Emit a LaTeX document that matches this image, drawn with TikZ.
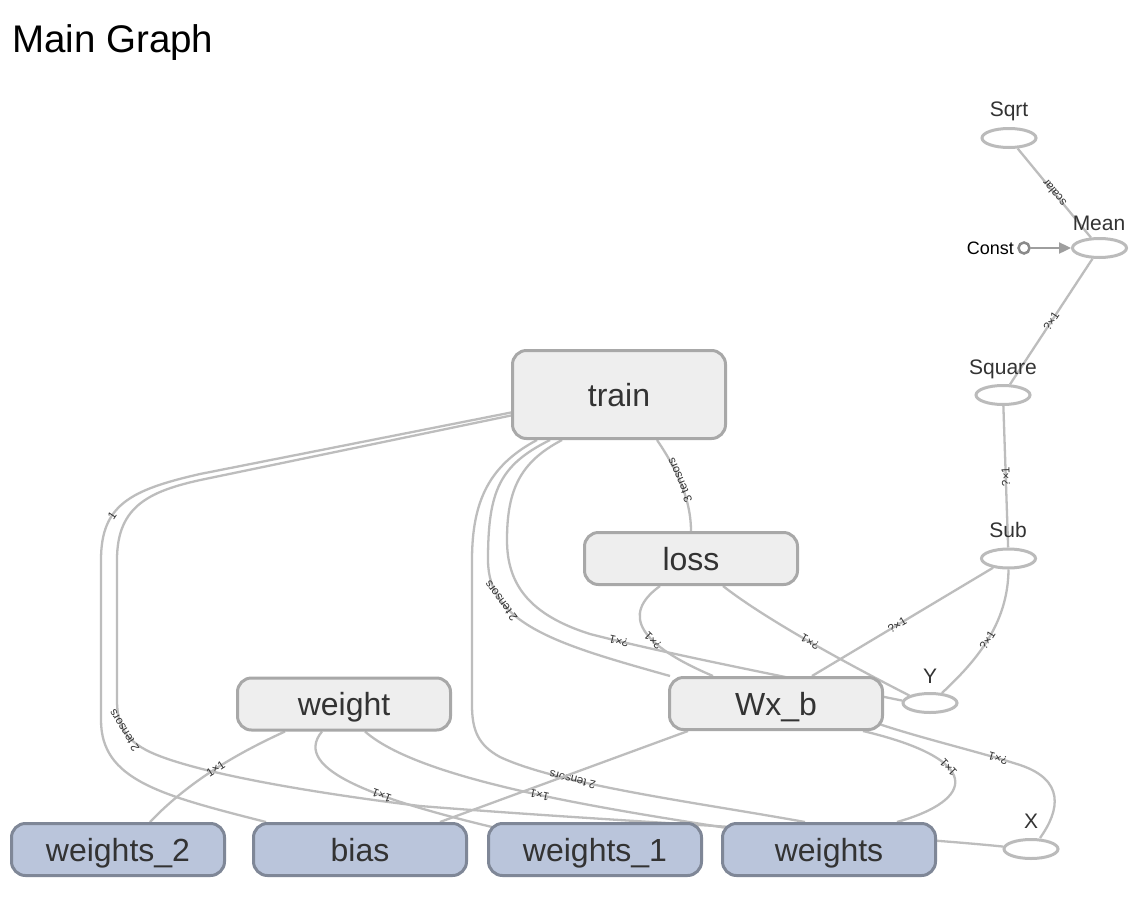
\documentclass[tikz,border=0pt]{standalone}
\usepackage{fontspec}
\setmainfont{Liberation Sans}
\usetikzlibrary{shapes.geometric,arrows.meta}
\definecolor{edgec}{HTML}{BDBDBD}
\definecolor{opfill}{HTML}{EEEEEE}
\definecolor{opdraw}{HTML}{A8A8A8}
\definecolor{varfill}{HTML}{BAC5DB}
\definecolor{vardraw}{HTML}{7F8797}
\definecolor{txt}{HTML}{333333}
\definecolor{ellc}{HTML}{BBBBBB}
\definecolor{constc}{HTML}{8A8A8A}
\definecolor{arrc}{HTML}{9E9E9E}
\pgfdeclarelayer{back}
\pgfdeclarelayer{edges}
\pgfsetlayers{back,edges,main}
\begin{document}
\begin{tikzpicture}[x=1pt,y=-1pt,
  edge/.style={draw=edgec, line width=2.3pt},
  elabel/.style={sloped, allow upside down, font=\fontsize{11.5}{11.5}\selectfont, text=txt, inner sep=0pt},
  opbox/.style={rectangle, rounded corners=14pt, draw=opdraw, fill=opfill, line width=3pt, minimum width=213pt, minimum height=52pt, inner sep=0pt, text height=23pt, text depth=0pt, font=\fontsize{32}{32}\selectfont, text=txt},
  varbox/.style={opbox, draw=vardraw, fill=varfill},
  ell/.style={ellipse, draw=ellc, fill=white, line width=3pt, minimum width=54pt, minimum height=19pt, inner sep=0pt},
  ellab/.style={font=\fontsize{21}{21}\selectfont, text=txt, anchor=base, inner sep=0pt},
]
\begin{pgfonlayer}{back}
\fill[white] (0,0) rectangle (1142,910);
\end{pgfonlayer}
\useasboundingbox (0,0) rectangle (1142,910);

\node[anchor=base west, font=\fontsize{38.5}{40}\selectfont, inner sep=0pt, text=black] (title) at (12,52) {Main Graph};

% operation boxes
\node[opbox, minimum height=88pt] (train) at (619,394.5) {train};
\node[opbox] (loss) at (691,558.5) {loss};
\node[opbox] (weight) at (344,704) {weight};
\node[opbox] (wxb) at (776,703.5) {Wx\_b};
% variable boxes
\node[varbox] (w2) at (118,849.5) {weights\_2};
\node[varbox] (bias) at (360,849.5) {bias};
\node[varbox] (w1) at (595,849.5) {weights\_1};
\node[varbox] (wts) at (829,849.5) {weights};

% ellipses
\node[ell] (Sqrt) at (1009,138) {};
\node[ell] (Mean) at (1099.5,248) {};
\node[ell] (Square) at (1003,395) {};
\node[ell] (Sub) at (1008.5,558.5) {};
\node[ell] (Y) at (930,703) {};
\node[ell] (X) at (1031,849) {};
\node[ellab] (SqrtL) at (1009,116) {Sqrt};
\node[ellab] (MeanL) at (1099,230) {Mean};
\node[ellab] (SquareL) at (1003,374) {Square};
\node[ellab] (SubL) at (1008,537) {Sub};
\node[ellab] (YL) at (930,683) {Y};
\node[ellab] (XL) at (1031,828) {X};

% Const
\node[circle, draw=constc, fill=white, line width=2.5pt, minimum size=11pt, inner sep=0pt] (Const) at (1024,248) {};
\node[font=\fontsize{18}{18}\selectfont, anchor=base east, inner sep=0pt, text=black] (ConstL) at (1014,254.5) {Const};

\begin{pgfonlayer}{edges}
\draw[draw=arrc, line width=2.3pt, -{Triangle[length=12pt,width=11pt]}] (Const) -- (Mean);

\draw[edge] (Mean) -- node[elabel]{scalar} (Sqrt);
\draw[edge] (Square) -- node[elabel]{?×1} (Mean);
\draw[edge] (Sub) -- node[elabel]{?×1} (Square);
\draw[edge] ([xshift=36pt]wxb.north) -- node[elabel,pos=0.47]{?×1} (Sub);
\draw[edge] (Y.40) .. controls (975,662) and (1008,625) .. node[elabel]{?×1} (Sub.south);

\draw[edge] (loss.north) .. controls (691,495) and (672,462) .. node[elabel]{3 tensors} ([xshift=38pt]train.south);

\draw[edge] ([xshift=-106pt]wxb.north) .. controls (560,645) and (488,625) .. node[elabel,pos=0.75]{2 tensors} (488,560) .. controls (488,490) and (500,465) .. ([xshift=-69pt]train.south);

\draw[edge] (Y.175) .. controls (760,672) and (660,652) .. node[elabel,pos=0.87]{?×1} (590,634) .. controls (530,615) and (507,585) .. (507,540) .. controls (507,490) and (520,462) .. ([xshift=-57pt]train.south);

\draw[edge] ([xshift=-63pt]wxb.north) .. controls (640,645) and (620,615) .. node[elabel,pos=0.38]{?×1} ([xshift=-31pt]loss.south);

\draw[edge] (Y.160) .. controls (830,655) and (760,615) .. node[elabel,pos=0.45]{?×1} ([xshift=32pt]loss.south);

\draw[edge] ([xshift=14pt]bias.north west) .. controls (160,795) and (101,780) .. (101,720) -- (101,560) .. controls (101,505) and (130,490) .. node[elabel,pos=0.35]{1} (200,474) -- ([yshift=-18pt]train.west);

\draw[edge] (X.175) .. controls (880,834) and (620,822) .. (420,806) .. controls (330,795) and (200,775) .. (150,752) .. controls (125,740) and (117,725) .. node[elabel,pos=0.5]{2 tensors} (117,700) -- (117,560) .. controls (117,505) and (150,490) .. (210,478) -- ([yshift=-21pt]train.west);

\draw[edge] ([xshift=-24pt]wts.north) .. controls (700,803) and (560,785) .. node[elabel,pos=0.7]{2 tensors} (500,757) .. controls (478,745) and (472,730) .. (472,705) -- (472,560) .. controls (472,500) and (490,465) .. ([xshift=-82pt]train.south);

\draw[edge] ([xshift=32pt]w2.north) .. controls (190,780) and (240,752) .. node[elabel]{1×1} ([xshift=-59pt]weight.south);

\draw[edge] ([xshift=5pt,yshift=-5pt]w1.north west) .. controls (380,800) and (290,770) .. node[elabel,pos=0.37]{1×1} ([xshift=-22pt]weight.south);

\draw[edge] ([xshift=6pt,yshift=-6pt]wts.north west) .. controls (600,808) and (420,780) .. node[elabel,pos=0.45]{1×1} ([xshift=21pt]weight.south);

\draw[edge] ([xshift=-28pt]bias.north east) -- ([xshift=-88pt]wxb.south);

\draw[edge] ([xshift=68pt]wts.north) .. controls (975,800) and (985,760) .. node[elabel,pos=0.62]{1×1} ([xshift=-21pt]wxb.south east);

\draw[edge] ([xshift=9pt]X.north) .. controls (1060,810) and (1065,780) .. (1020,765) .. controls (980,752) and (920,738) .. node[elabel,pos=0.17]{?×1} ([xshift=-8pt,yshift=8pt]wxb.south east);
\end{pgfonlayer}
\end{tikzpicture}
\end{document}
